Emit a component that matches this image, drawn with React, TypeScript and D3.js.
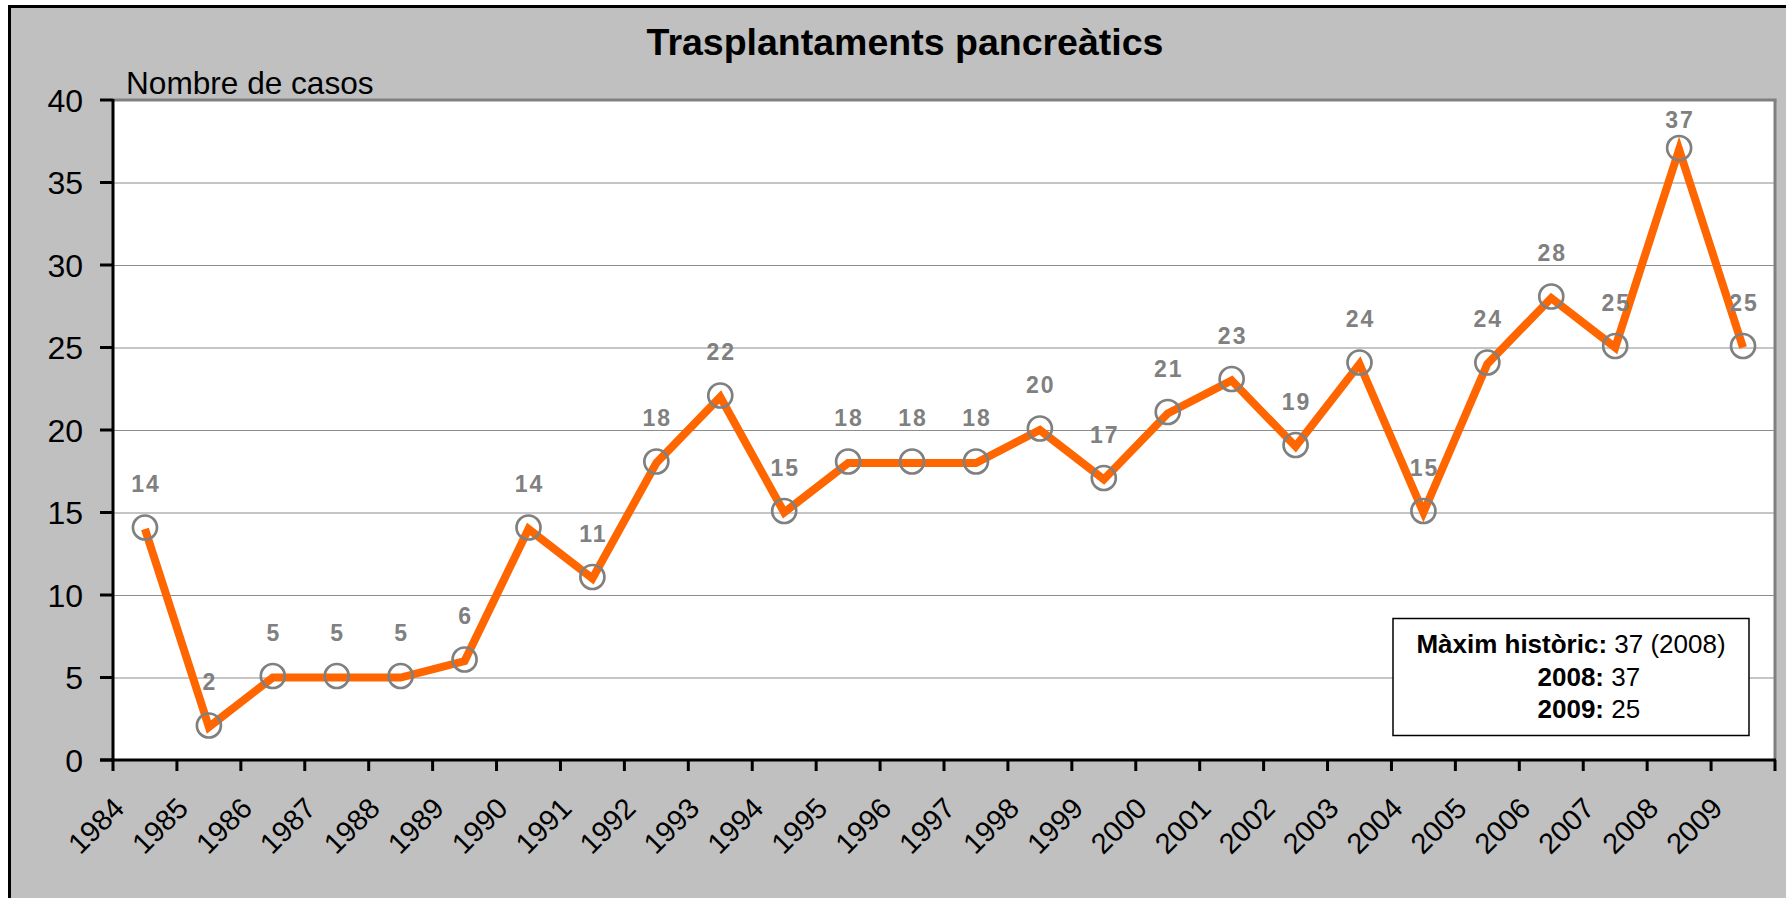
import React from 'react';
import * as d3 from 'd3';

const years = ['1984','1985','1986','1987','1988','1989','1990','1991','1992','1993','1994','1995','1996','1997','1998','1999','2000','2001','2002','2003','2004','2005','2006','2007','2008','2009'];
const cases = [14,2,5,5,5,6,14,11,18,22,15,18,18,18,20,17,21,23,19,24,15,24,28,25,37,25];
const yTicks = [0,5,10,15,20,25,30,35,40];
const gridTicks = [5,10,15,20,25,30,35];
const title = 'Trasplantaments pancreàtics';
const yAxisTitle = 'Nombre de casos';
const noteLines = [
  { bold: 'Màxim històric:', normal: ' 37 (2008)' },
  { bold: '2008:', normal: ' 37' },
  { bold: '2009:', normal: ' 25' },
];

const W = 1786;
const H = 898;
const L = 113, R = 1775, T = 100, B = 760;
const FONT = '"Liberation Sans", Arial, Helvetica, sans-serif';

export default function App() {
  const x = d3.scaleBand<string>().domain(years).range([L, R]).paddingInner(0).paddingOuter(0);
  const y = d3.scaleLinear().domain([0, 40]).range([B, T]);
  const cx = (d: string) => (x(d) as number) + x.bandwidth() / 2;
  const line = d3.line<number>().x((_, i) => cx(years[i])).y((v) => y(v));
  const boundaries = d3.range(years.length + 1).map((i) => L + i * x.bandwidth());

  return (
    <svg width={W} height={H} style={{ position: 'absolute', left: 0, top: 0, display: 'block' }} fontFamily={FONT}>
      <rect x={0} y={0} width={W} height={H} fill="#ffffff" />
      <rect x={9.5} y={6.5} width={W + 20} height={H + 20} fill="#c0c0c0" stroke="#000" strokeWidth={3} />
      <text x={905} y={55} textAnchor="middle" fontSize={37.5} fontWeight="bold" fill="#000">{title}</text>
      <rect x={L} y={T} width={R - L} height={B - T} fill="#ffffff" />
      {gridTicks.map((t) => (
        <line key={'g' + t} x1={L} x2={R} y1={y(t) + 0.5} y2={y(t) + 0.5} stroke="#8c8c8c" strokeWidth={1} />
      ))}
      <line x1={L} x2={R + 1.5} y1={T} y2={T} stroke="#808080" strokeWidth={3} />
      <line x1={R} x2={R} y1={T} y2={B} stroke="#808080" strokeWidth={3} />
      <text x={126} y={94} fontSize={31.6} fill="#000">{yAxisTitle}</text>
      {/* y axis */}
      <line x1={L} x2={L} y1={T - 1} y2={B + 1} stroke="#000" strokeWidth={3} />
      {yTicks.map((t) => (
        <g key={'y' + t}>
          <line x1={L - 13} x2={L} y1={y(t)} y2={y(t)} stroke="#000" strokeWidth={3} />
          <text x={83} y={y(t)} dy="0.36em" textAnchor="end" fontSize={32} fill="#000">{t}</text>
        </g>
      ))}
      {/* x axis */}
      <line x1={L - 13} x2={R + 1} y1={B} y2={B} stroke="#000" strokeWidth={3} />
      {boundaries.map((bx, i) => (
        <line key={'xt' + i} x1={bx} x2={bx} y1={B} y2={B + 11} stroke="#000" strokeWidth={3} />
      ))}
      {years.map((yr) => (
        <text key={'xl' + yr} transform={`translate(${cx(yr) - 19},${810}) rotate(-45)`} textAnchor="end" fontSize={29} fill="#000">{yr}</text>
      ))}
      {/* series */}
      <path d={line(cases) as string} fill="none" stroke="#ff6600" strokeWidth={8} strokeLinejoin="miter" strokeLinecap="butt" />
      {cases.map((v, i) => (
        <circle key={'c' + i} cx={cx(years[i])} cy={y(v) - 1.5} r={12} fill="none" stroke="#808080" strokeWidth={2.7} />
      ))}
      {cases.map((v, i) => (
        <text key={'dl' + i} x={cx(years[i]) + 1} y={Math.max(y(v) - 37, T + 28)} textAnchor="middle" fontSize={23} fontWeight="bold" letterSpacing={2} fill="#808080">{v}</text>
      ))}
      {/* note box */}
      <rect x={1393} y={618.5} width={356} height={117} fill="#ffffff" stroke="#000" strokeWidth={1.5} />
      <text x={1571} y={653} textAnchor="middle" fontSize={26} fill="#000">
        <tspan fontWeight="bold">{noteLines[0].bold}</tspan>
        <tspan>{noteLines[0].normal}</tspan>
      </text>
      {noteLines.slice(1).map((ln, i) => (
        <text key={'n' + i} x={1537.5} y={686 + i * 31.5} fontSize={26} fill="#000">
          <tspan fontWeight="bold">{ln.bold}</tspan>
          <tspan>{ln.normal}</tspan>
        </text>
      ))}
    </svg>
  );
}
